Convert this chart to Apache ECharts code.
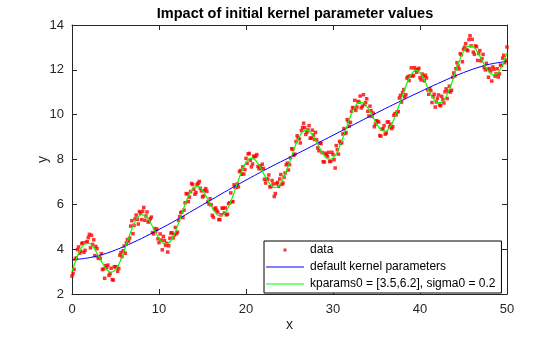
<!DOCTYPE html>
<html>
<head>
<meta charset="utf-8">
<script src="https://cdn.jsdelivr.net/npm/echarts@6/dist/echarts.min.js"></script>
<style>html,body{margin:0;padding:0;background:#fff}#c{width:560px;height:337px}</style>
</head>
<body>
<div id="c"></div>
<script>
// ---- data ----
const dataXa = [0,0.25,0.5,0.75,1,1.25,1.5,1.75,2,2.25,2.5,2.75,3,3.25,3.5,3.75,4,4.25,4.5,4.75,5,5.25,5.5,5.75,6,6.25,6.5,6.75,7,7.25,7.5,7.75,8,8.25,8.5,8.75,9,9.25,9.5,9.75,10,10.25,10.5,10.75,11,11.25,11.5,11.75,12,12.25,12.5,12.75,13,13.25,13.5,13.75,14,14.25,14.5,14.75,15,15.25,15.5,15.75,16,16.25,16.5,16.75,17,17.25,17.5,17.75,18,18.25,18.5,18.75,19,19.25,19.5,19.75,20,20.25,20.5,20.75,21,21.25,21.5,21.75,22,22.25,22.5,22.75,23,23.25,23.5,23.75,24,24.25,24.5,24.75,25,25.25,25.5,25.75,26,26.25,26.5,26.75,27,27.25,27.5,27.75,28,28.25,28.5,28.75,29,29.25,29.5,29.75,30,30.25,30.5,30.75,31,31.25,31.5,31.75,32,32.25,32.5,32.75,33,33.25,33.5,33.75,34,34.25,34.5,34.75,35,35.25,35.5,35.75,36,36.25,36.5,36.75,37,37.25,37.5,37.75,38,38.25,38.5,38.75,39,39.25,39.5,39.75,40,40.25,40.5,40.75,41,41.25,41.5,41.75,42,42.25,42.5,42.75,43,43.25,43.5,43.75,44,44.25,44.5,44.75,45,45.25,45.5,45.75,46,46.25,46.5,46.75,47,47.25,47.5,47.75,48,48.25,48.5,48.75,49,49.25,49.5,49.75,50];
const dataYa = [2.80,3.10,3.61,4.10,3.90,4.28,3.95,4.34,4.66,4.62,4.42,4.12,3.61,3.58,3.09,2.70,3.18,2.83,3.15,2.62,3.21,3.01,3.73,3.67,4.14,4.28,4.35,5.03,4.69,5.35,5.33,5.68,5.32,5.86,5.48,5.21,5.36,4.74,4.92,4.90,4.29,4.41,4.57,4.17,3.87,4.49,4.73,4.64,4.68,5.28,5.63,5.41,6.07,6.46,6.32,6.93,6.67,6.53,6.94,6.72,6.33,6.62,6.58,6.01,5.98,5.42,5.84,5.65,5.32,5.83,5.61,5.53,6.03,6.51,6.12,6.76,6.91,7.46,7.34,7.35,8.05,8.25,7.97,7.80,8.12,8.22,7.59,7.59,7.60,6.95,7.12,6.78,7.06,6.35,6.92,6.80,7.33,6.95,7.40,7.84,7.77,8.48,8.19,8.80,8.96,8.74,9.43,9.42,9.22,9.51,8.96,9.09,9.21,8.52,8.73,8.31,7.89,8.22,8.32,7.92,8.22,7.62,8.44,8.81,8.75,9.38,9.20,9.70,9.66,10.32,10.64,10.34,10.56,10.30,10.89,10.54,10.15,10.38,9.92,9.46,9.73,9.67,9.04,9.37,9.13,9.67,9.45,9.38,9.97,9.99,10.14,10.86,10.98,10.79,11.63,11.52,12.09,11.75,12.00,12.02,11.65,11.81,11.51,11.64,10.91,11.07,10.80,10.34,10.73,10.43,10.82,10.52,11.15,11.04,11.01,11.67,11.73,12.32,12.04,12.67,12.92,13.17,12.85,13.52,13.36,12.69,13.03,12.73,12.40,12.69,12.00,12.04,12.06,11.50,12.03,11.82,11.68,12.21,12.52,12.32,13.02];
const dataXb = [0.125,0.375,0.625,0.875,1.125,1.375,1.625,1.875,2.125,2.375,2.625,2.875,3.125,3.375,3.625,3.875,4.125,4.375,4.625,4.875,5.125,5.375,5.625,5.875,6.125,6.375,6.625,6.875,7.125,7.375,7.625,7.875,8.125,8.375,8.625,8.875,9.125,9.375,9.625,9.875,10.125,10.375,10.625,10.875,11.125,11.375,11.625,11.875,12.125,12.375,12.625,12.875,13.125,13.375,13.625,13.875,14.125,14.375,14.625,14.875,15.125,15.375,15.625,15.875,16.125,16.375,16.625,16.875,17.125,17.375,17.625,17.875,18.125,18.375,18.625,18.875,19.125,19.375,19.625,19.875,20.125,20.375,20.625,20.875,21.125,21.375,21.625,21.875,22.125,22.375,22.625,22.875,23.125,23.375,23.625,23.875,24.125,24.375,24.625,24.875,25.125,25.375,25.625,25.875,26.125,26.375,26.625,26.875,27.125,27.375,27.625,27.875,28.125,28.375,28.625,28.875,29.125,29.375,29.625,29.875,30.125,30.375,30.625,30.875,31.125,31.375,31.625,31.875,32.125,32.375,32.625,32.875,33.125,33.375,33.625,33.875,34.125,34.375,34.625,34.875,35.125,35.375,35.625,35.875,36.125,36.375,36.625,36.875,37.125,37.375,37.625,37.875,38.125,38.375,38.625,38.875,39.125,39.375,39.625,39.875,40.125,40.375,40.625,40.875,41.125,41.375,41.625,41.875,42.125,42.375,42.625,42.875,43.125,43.375,43.625,43.875,44.125,44.375,44.625,44.875,45.125,45.375,45.625,45.875,46.125,46.375,46.625,46.875,47.125,47.375,47.625,47.875,48.125,48.375,48.625,48.875,49.125,49.375,49.625,49.875];
const dataYb = [2.92,3.56,3.98,3.82,4.25,3.86,4.30,4.52,4.06,4.21,3.71,4.02,3.61,3.80,3.12,3.26,3.29,2.91,2.64,3.22,3.21,3.14,3.85,3.93,3.82,4.43,4.50,5.27,5.06,5.52,5.12,5.60,5.69,5.29,5.66,5.24,5.43,4.68,4.80,4.46,4.68,3.97,4.39,4.26,4.15,4.72,4.50,4.97,4.76,5.45,5.66,5.74,6.48,6.12,6.57,6.88,6.45,6.89,7.02,6.60,6.37,6.70,6.11,6.25,5.51,5.79,5.74,5.32,5.53,5.83,5.84,5.56,6.07,6.12,6.87,6.76,6.78,7.51,7.67,7.55,7.83,8.27,7.67,8.15,8.15,7.69,7.71,7.79,7.12,7.13,7.31,6.79,6.91,6.48,6.98,7.13,6.89,7.21,7.76,7.53,8.08,8.46,8.24,9.06,8.92,9.29,9.62,9.12,9.32,8.95,9.31,8.90,8.87,8.39,8.71,7.90,8.28,8.13,7.91,8.32,7.99,8.62,8.24,8.72,9.14,9.16,9.78,9.49,10.15,10.29,10.19,10.59,10.83,10.38,10.45,10.71,9.94,10.18,10.07,9.58,9.70,9.07,9.35,9.51,9.18,9.68,9.57,9.46,10.05,10.13,10.74,10.56,11.12,10.89,11.70,11.73,11.72,12.10,11.89,12.07,11.55,11.71,11.76,11.11,11.16,10.54,10.91,10.57,10.88,10.40,10.67,11.02,10.72,11.27,11.09,11.86,12.05,12.17,12.72,12.36,13.01,12.90,13.35,13.07,12.79,13.07,12.42,12.86,12.50,12.11,12.29,11.67,11.95,12.13,11.72,12.05,11.82,12.19,12.65,12.43];
const fitX = [0,0.5,1,1.5,2,2.5,3,3.5,4,4.5,5,5.5,6,6.5,7,7.5,8,8.5,9,9.5,10,10.5,11,11.5,12,12.5,13,13.5,14,14.5,15,15.5,16,16.5,17,17.5,18,18.5,19,19.5,20,20.5,21,21.5,22,22.5,23,23.5,24,24.5,25,25.5,26,26.5,27,27.5,28,28.5,29,29.5,30,30.5,31,31.5,32,32.5,33,33.5,34,34.5,35,35.5,36,36.5,37,37.5,38,38.5,39,39.5,40,40.5,41,41.5,42,42.5,43,43.5,44,44.5,45,45.5,46,46.5,47,47.5,48,48.5,49,49.5,50];
const tunedFit = [3.00,3.56,4.00,4.25,4.26,4.07,3.73,3.37,3.08,2.97,3.09,3.43,3.94,4.50,5.02,5.39,5.54,5.46,5.19,4.83,4.48,4.26,4.25,4.47,4.89,5.44,6.00,6.46,6.74,6.79,6.62,6.30,5.93,5.62,5.49,5.57,5.89,6.38,6.94,7.47,7.87,8.05,8.00,7.75,7.39,7.04,6.80,6.75,6.94,7.34,7.87,8.44,8.93,9.23,9.31,9.17,8.86,8.49,8.17,8.01,8.06,8.35,8.82,9.38,9.92,10.34,10.55,10.53,10.30,9.95,9.59,9.33,9.26,9.41,9.79,10.31,10.88,11.40,11.80,11.98,11.88,11.55,11.10,10.74,10.53,10.55,10.81,11.26,11.82,12.37,12.81,13.05,13.06,12.86,12.52,12.15,11.87,11.77,11.89,12.24,12.75];
const defX = [0,2,4,6,8,10,12,14,16,18,20,22,24,26,28,30,32,34,36,38,40,42,44,46,48,50];
const defaultFit = [3.52,3.62,3.82,4.12,4.48,4.88,5.30,5.75,6.20,6.65,7.08,7.50,7.90,8.28,8.68,9.08,9.48,9.88,10.27,10.65,11.02,11.38,11.72,12.02,12.25,12.38];
const legendNames = ['data','default kernel parameters','kparams0 = [3.5,6.2], sigma0 = 0.2'];
const titleText = 'Impact of initial kernel parameter values';

const zip = (xs, ys) => xs.map((x, i) => [x, ys[i]]);
const FONT = 'Liberation Sans, Arial, Helvetica, sans-serif';
const AX = '#262626';

const chart = echarts.init(document.getElementById('c'), null, {renderer: 'canvas'});
const baseAxis = {
  axisLine: {show: true, onZero: false, lineStyle: {color: AX, width: 1}},
  axisTick: {show: true, inside: true, length: 5, lineStyle: {color: AX}},
  splitLine: {show: false},
  axisLabel: {color: AX, fontFamily: FONT, fontSize: 13},
  nameTextStyle: {color: AX, fontFamily: FONT, fontSize: 14}
};
// legend icons: a bounding frame (moveTo points only) keeps the marks at their intended size
const dotIcon = 'path://M0,0M38,14M17.5,5.5h3v3h-3z';
const lineIcon = 'path://M0,0M38,14M0,6.5h38v1h-38z';
chart.setOption({
  animation: false,
  backgroundColor: '#fff',
  title: {
    text: titleText, left: 290, top: 1, textAlign: 'center',
    textStyle: {fontFamily: FONT, fontSize: 14.5, fontWeight: 'bold', color: '#000'}
  },
  grid: {left: 72, right: 53, top: 25, bottom: 39, containLabel: false},
  xAxis: [
    Object.assign({}, baseAxis, {type: 'value', min: 0, max: 50, interval: 10, name: 'x', nameLocation: 'middle', nameGap: 24,
      nameMoveOverlap: false, axisLabel: Object.assign({}, baseAxis.axisLabel, {margin: 9})}),
    Object.assign({}, baseAxis, {type: 'value', min: 0, max: 50, interval: 10, position: 'top', axisLabel: {show: false}})
  ],
  yAxis: [
    Object.assign({}, baseAxis, {type: 'value', min: 2, max: 14, interval: 2, name: 'y', nameLocation: 'middle', nameGap: 22, nameRotate: 90,
      nameMoveOverlap: false, axisLabel: Object.assign({}, baseAxis.axisLabel, {margin: 8})}),
    Object.assign({}, baseAxis, {type: 'value', min: 2, max: 14, interval: 2, position: 'right', axisLabel: {show: false}})
  ],
  legend: {
    orient: 'vertical', left: 264, top: 241, width: 237,
    backgroundColor: '#fff', borderColor: '#000', borderWidth: 1, borderRadius: 0,
    padding: [2, 6, 2, 2], itemGap: 3, itemWidth: 38, itemHeight: 14,
    textStyle: {fontFamily: FONT, fontSize: 12, color: '#000', padding: [0, 0, 0, 1]},
    data: [
      {name: legendNames[0], icon: dotIcon, itemStyle: {color: '#ff0000'}},
      {name: legendNames[1], icon: lineIcon, itemStyle: {color: '#0000ff'}},
      {name: legendNames[2], icon: lineIcon, itemStyle: {color: '#00ff00'}}
    ]
  },
  series: [
    {name: legendNames[0], type: 'scatter', data: zip(dataXa, dataYa).concat(zip(dataXb, dataYb)),
      symbol: 'rect', symbolSize: 3.5, itemStyle: {color: '#ff0000'}},
    {name: legendNames[1], type: 'line', data: zip(defX, defaultFit), smooth: 0.3, symbol: 'none',
      lineStyle: {color: '#0000ff', width: 1}, itemStyle: {color: '#0000ff'}},
    {name: legendNames[2], type: 'line', data: zip(fitX, tunedFit), smooth: 0.3, symbol: 'none',
      lineStyle: {color: '#00ff00', width: 1.2}, itemStyle: {color: '#00ff00'}}
  ]
});
</script>
</body>
</html>
